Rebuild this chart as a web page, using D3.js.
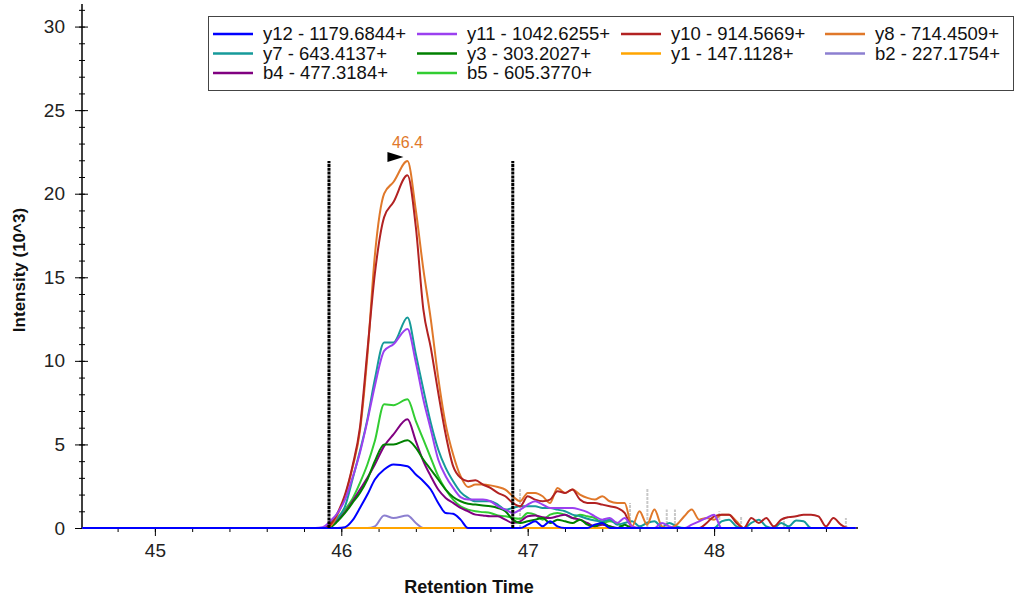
<!DOCTYPE html>
<html><head><meta charset="utf-8">
<script src="https://cdn.jsdelivr.net/npm/d3@7"></script>
<style>
body{margin:0;background:#fff;}
svg{display:block;}
text{font-family:"Liberation Sans",Arial,sans-serif;}
</style>
</head><body>
<svg id="chart" width="1016" height="601"></svg>
<script>
// ---------- DATA ----------
const times = [44.61,45.86,45.90,45.94,45.98,46.02,46.06,46.10,46.14,46.18,46.23,46.28,46.355,46.40,46.44,46.48,46.52,46.56,46.60,46.64,46.68,46.72,46.76,46.80,46.84,46.88,46.92,46.96,
  47.00,47.04,47.08,47.12,47.16,47.20,47.24,47.28,47.32,47.36,47.40,47.44,47.48,47.52,47.56,47.60,47.64,47.68,47.72,47.76,47.80,47.84,47.88,47.92,47.96,
  48.00,48.04,48.08,48.12,48.16,48.20,48.24,48.28,48.32,48.36,48.40,48.44,48.48,48.52,48.56,48.60,48.64,48.68,48.72,48.76];

const y12 = [0,0,0,0,0,0.05,0.45,1.2,2.0,2.9,3.5,3.8,3.7,3.2,2.8,2.3,1.5,0.9,0.85,0.5,0,0,0,0,0,0,0,0,
  0.2,0.4,0.1,0.4,0.1,0,0,0,0,0.2,0.3,0,0,0,0,0,0,0,0,0,0,0,0,0,0,0,0,0,0,0,0,0,0,0,0,0,0,0,0,0,0,0,0,0,0];
const y11 = [0,0,0.05,0.4,0.9,1.7,3.0,4.5,6.4,8.5,10.6,11.0,11.9,9.9,7.7,5.9,4.1,3.1,2.4,1.85,1.7,1.7,1.7,1.6,1.3,1.1,0.9,1.1,
  1.4,1.6,1.4,1.2,1.2,1.2,1.2,1.1,0.95,0.7,0.5,0.6,0.3,0.6,0.1,0,0,0,0.3,0.1,0,0,0.2,0.4,0.6,0.8,0,0,0,0,0,0,0,0,0,0,0,0,0,0,0,0,0,0,0];
const y10 = [0,0,0,0.2,0.9,2.0,3.7,6.0,10.6,15.2,18.6,19.5,21.1,18.0,13.1,10.8,8.1,5.6,3.7,3.0,2.8,2.85,2.6,2.4,2.1,1.9,1.5,1.3,
  1.9,1.7,1.6,1.7,2.2,2.1,2.3,1.7,1.5,1.5,1.4,1.3,1.2,0.9,0.05,0,0,0,0,0,0,0,0,0,0.3,0.7,0.8,0.8,0.3,0,0.6,0.3,0.6,0.1,0.5,0.65,0.7,0.8,0.8,0.7,0.1,0.6,0.2,0,0];
const y8 = [0,0,0,0.1,0.8,1.9,3.6,5.8,10.3,16.3,20.0,20.7,21.95,19.0,15.5,12.5,9.0,6.2,4.4,3.1,2.45,2.6,2.6,2.55,2.45,2.3,1.9,1.6,
  2.1,2.1,1.9,1.5,2.4,2.1,2.3,2.0,1.8,1.7,1.9,1.6,1.5,1.5,0.1,1.0,0.2,1.1,0.1,0,0.2,0.7,1.1,0.5,0.6,0.5,0.8,0.8,0.4,0,0,0,0,0,0,0,0,0,0,0,0,0,0,0,0];
const y7 = [0,0,0,0.2,0.6,1.3,2.9,4.6,6.5,8.9,11.1,11.1,12.6,10.4,8.3,6.3,4.7,3.6,2.8,2.15,1.8,1.6,1.6,1.6,1.4,1.1,1.2,1.3,
  1.3,1.3,1.2,1.2,1.1,1.0,0.8,0.7,0.55,0.45,0.4,0.5,0.2,0.3,0.4,0.1,0.3,0.4,0.05,0.3,0.1,0,0,0,0,0,0.4,0.5,0.1,0,0.3,0.5,0.1,0,0.3,0.1,0.45,0.4,0,0,0,0,0,0,0];
const y3 = [0,0,0,0.05,0.4,0.9,1.5,2.1,2.9,4.0,5.0,5.0,5.25,4.8,4.1,3.5,2.9,2.3,1.85,1.6,1.45,1.4,1.35,1.3,1.2,1.0,0.5,0.3,
  0.4,0.5,0.6,0.3,0.5,0.4,0.3,0.5,0.2,0.1,0.3,0.1,0,0.2,0,0,0,0,0,0,0,0,0,0,0,0,0,0,0,0,0,0,0,0,0,0,0,0,0,0,0,0,0,0,0];
const y1 = [0,0,0,0,0,0,0,0,0,0,0,0,0,0,0,0,0,0,0,0,0,0,0,0,0,0,0,0,
  0,0,0,0,0,0,0,0,0,0,0,0,0,0,0,0,0,0,0,0,0,0,0,0,0,0,0,0,0,0,0,0,0,0,0,0,0,0,0,0,0,0,0,0,0];
const b2 = [0,0,0,0,0,0,0,0,0,0.1,0.75,0.6,0.75,0.3,0,0,0,0,0,0,0,0,0,0,0,0,0,0,
  0,0,0,0,0,0,0,0,0,0,0,0,0,0,0,0,0,0,0,0,0,0,0,0,0,0,0,0,0,0,0,0,0,0,0,0,0,0,0,0,0,0,0,0,0];
const b4 = [0,0,0,0.2,0.5,0.95,1.6,2.3,3.0,3.8,4.9,5.6,6.5,5.2,4.0,3.1,2.3,1.8,1.5,1.2,1.0,0.8,0.75,0.7,0.7,0.5,0.3,0.4,
  0.7,0.75,0.65,0.6,0.7,0.8,0.6,0.5,0.3,0.1,0.2,0.1,0,0,0,0,0,0,0,0,0,0,0,0,0,0,0,0,0,0,0,0,0,0,0,0,0,0,0,0,0,0,0,0,0];
const b5 = [0,0,0,0.3,0.6,1.1,1.75,2.7,3.8,5.2,7.4,7.35,7.7,6.4,5.3,4.2,3.1,2.3,1.7,1.3,1.1,1.0,0.95,0.9,0.75,0.7,0.6,0.55,
  0.9,0.8,0.5,0.8,0.9,0.8,0.6,0.8,0.7,0.6,0.3,0.4,0.3,0,0,0,0,0,0,0,0,0,0,0,0,0,0,0,0,0,0,0,0,0,0,0,0,0,0,0,0,0,0,0,0];

const seriesLabels = ["y12 - 1179.6844+","y11 - 1042.6255+","y10 - 914.5669+","y8 - 714.4509+",
  "y7 - 643.4137+","y3 - 303.2027+","y1 - 147.1128+","b2 - 227.1754+",
  "b4 - 477.3184+","b5 - 605.3770+"];
const seriesValues = [y12,y11,y10,y8,y7,y3,y1,b2,b4,b5];
const seriesColors = ["#0000FF","#9B40F0","#B22222","#E0782A","#169A9A","#008000","#FFA500","#8C7FD0","#800080","#32CD32"];

const peakBoundaries = [45.934, 46.92];
const peakApexTime = 46.355;
const peakApexValue = 21.95;
const peakLabel = "46.4";

const ms2Times = [46.959,47.549,47.642,47.746,47.79,48.028,48.145,48.375,48.707];
const ms2Heights = [2.4,1.5,2.4,1.1,1.1,1.0,0.7,0.6,0.6];

const xMajorTicks = [45,46,47,48];
const yMajorTicks = [0,5,10,15,20,25,30];
const xTitle = "Retention Time";
const yTitle = "Intensity (10^3)";

// ---------- CHART ----------
const svg = d3.select("#chart");
const x = d3.scaleLinear().domain([44.609, 48.772]).range([82, 858]);
const y = d3.scaleLinear().domain([0, 31.35]).range([528, 4]);

const xMinor = d3.range(44.6, 48.78, 0.2).filter(v => v >= 44.609 && v <= 48.772);
const yMinor = d3.range(0, 32, 1);

// axes
const gx = svg.append("g").attr("transform", "translate(0,528)");
gx.call(d3.axisBottom(x).tickValues(xMinor).tickSize(4).tickFormat("").tickSizeOuter(0));
gx.call(g => g.select(".domain").remove());
const gxM = svg.append("g").attr("transform", "translate(0,528)");
gxM.call(d3.axisBottom(x).tickValues(xMajorTicks).tickSize(8).tickPadding(8).tickSizeOuter(0).tickFormat(d3.format("d")));
gxM.selectAll("text").attr("font-size", 19).attr("fill", "#222").attr("font-family", '"Liberation Sans",Arial,sans-serif');
gxM.select(".domain").attr("d", `M${x.range()[0]},0H${x.range()[1]}`).attr("stroke", "#000").attr("stroke-width", 1.5);

const gy = svg.append("g").attr("transform", "translate(82,0)");
gy.call(d3.axisLeft(y).tickValues(yMinor).tickSize(3).tickFormat("").tickSizeOuter(0));
gy.selectAll(".tick line").attr("x1", 3);
gy.call(g => g.select(".domain").remove());
const gyM = svg.append("g").attr("transform", "translate(82,0)");
gyM.call(d3.axisLeft(y).tickValues(yMajorTicks).tickSize(7).tickPadding(10).tickSizeOuter(0));
gyM.selectAll(".tick line").attr("x1", 6);
gyM.selectAll("text").attr("font-size", 19).attr("fill", "#222").attr("font-family", '"Liberation Sans",Arial,sans-serif');
gyM.select(".domain").attr("d", `M0,${y.range()[1]}V${y.range()[0]}`).attr("stroke", "#000").attr("stroke-width", 1.5);

// axis titles
svg.append("text").attr("x", 469).attr("y", 593).attr("text-anchor", "middle")
  .attr("font-size", 18).attr("font-weight", "bold").attr("fill", "#111").text(xTitle);
svg.append("text").attr("transform", "translate(25,270) rotate(-90)").attr("text-anchor", "middle")
  .attr("font-size", 17).attr("font-weight", "bold").attr("fill", "#111").text(yTitle);

// MS2 markers
svg.append("g").selectAll("line").data(ms2Times).join("line")
  .attr("x1", d => x(d)).attr("x2", d => x(d))
  .attr("y1", y(0)).attr("y2", (d, i) => y(ms2Heights[i]))
  .attr("stroke", "#c8c8c8").attr("stroke-width", 2).attr("stroke-dasharray", "3,1");

// series lines (drawn in reverse legend order)
const line = d3.line().x((d, i) => x(times[i])).y(d => y(d)).curve(d3.curveMonotoneX);
const order = d3.range(seriesValues.length).reverse();
svg.append("g").selectAll("path").data(order).join("path")
  .attr("d", i => line(seriesValues[i]))
  .attr("fill", "none").attr("stroke", i => seriesColors[i]).attr("stroke-width", 2)
  .attr("stroke-linejoin", "round");

// peak boundaries
svg.append("g").selectAll("line").data(peakBoundaries).join("line")
  .attr("x1", d => x(d)).attr("x2", d => x(d))
  .attr("y1", y(0)).attr("y2", y(peakApexValue))
  .attr("stroke", "#000").attr("stroke-width", 3).attr("stroke-dasharray", "3,0.8");

// apex marker and label
const ax = x(peakApexTime), ay = y(peakApexValue);
svg.append("path").attr("d", `M${ax-20},${ay-9}L${ax-4},${ay-4}L${ax-20},${ay+1}Z`).attr("fill", "#000");
svg.append("text").attr("x", ax).attr("y", ay - 13).attr("text-anchor", "middle")
  .attr("font-size", 16).attr("fill", seriesColors[3]).text(peakLabel);

// legend
const lg = svg.append("g");
lg.append("rect").attr("x", 208.5).attr("y", 16.5).attr("width", 805).attr("height", 74)
  .attr("fill", "#fff").attr("stroke", "#444").attr("stroke-width", 1);
const items = lg.selectAll("g.item").data(seriesLabels).join("g").attr("class", "item")
  .attr("transform", (d, i) => `translate(${213 + (i % 4) * 204},${34 + Math.floor(i / 4) * 19.5})`);
items.append("line").attr("x1", 0).attr("x2", 40).attr("y1", 0).attr("y2", 0)
  .attr("stroke", (d, i) => seriesColors[i]).attr("stroke-width", 2.5);
items.append("text").attr("x", 50).attr("y", 0).attr("dy", "0.35em")
  .attr("font-size", 18.5).attr("fill", "#111").text(d => d);
</script>
</body></html>
